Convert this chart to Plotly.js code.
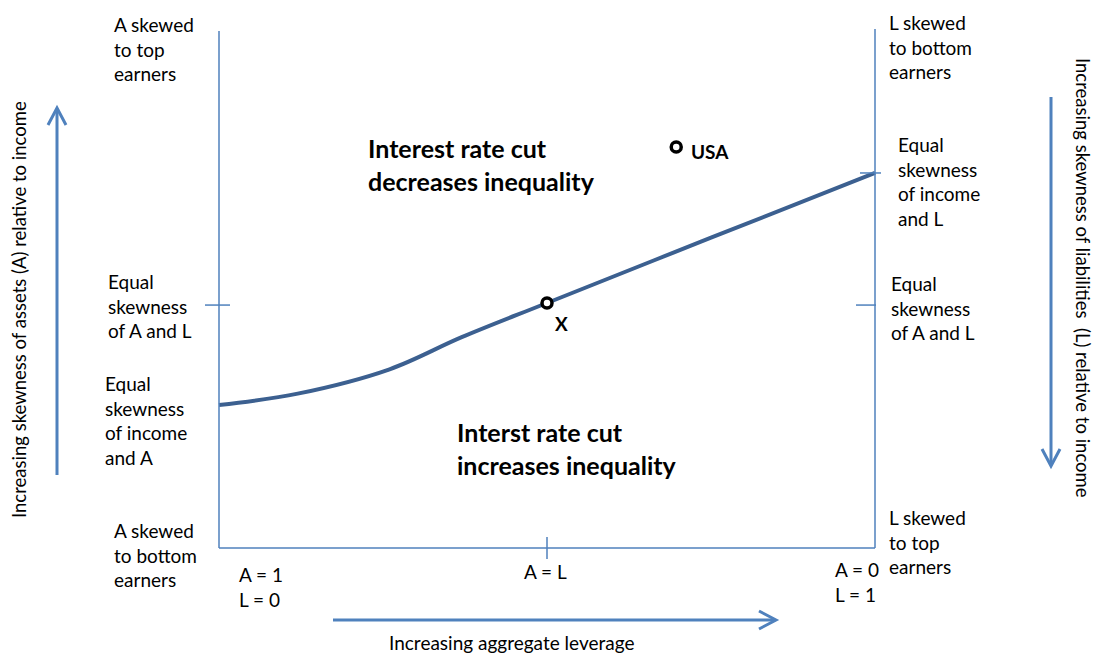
<!DOCTYPE html>
<html><head><meta charset="utf-8">
<script src="https://cdn.plot.ly/plotly-3.0.1.min.js"></script>
<style>html,body{margin:0;padding:0;background:#fff}#chart{width:1094px;height:655px}</style>
</head><body><div id="chart"></div>
<script>
// Curve: x = 0 (A=1,L=0) .. 1 (A=0,L=1); y = 0 (bottom) .. 1 (top)
const curveX = [0.00, 0.12, 0.26, 0.37, 0.50, 0.75, 1.00];
const curveY = [0.276, 0.298, 0.345, 0.407, 0.473, 0.599, 0.724];
const pointNames = ['X', 'USA'];
const pointX = [0.50, 0.697];
const pointY = [0.473, 0.774];
const leftTicksY = [0.469];
const rightTicksY = [0.724, 0.469];
const bottomTicksX = [0.5];

// pixel -> data helpers (for decorations / text placement)
const X0 = 219, X1 = 875, Y0 = 548, Y1 = 30;
const fx = p => (p - X0) / (X1 - X0);
const fy = p => (Y0 - p) / (Y0 - Y1);

const AX = '#4F81BD', CURVE = '#3C6090';
const FONT = 'Lato, "Noto Sans", sans-serif';

const shapes = [];
function seg(x0, y0, x1, y1, color, w) {
  shapes.push({type: 'line', xref: 'x', yref: 'y', x0: x0, y0: y0, x1: x1, y1: y1, line: {color: color, width: w}});
}
// axes frame
seg(0, fy(31), 0, 0, AX, 1.5);
seg(0, 0, 1, 0, AX, 1.5);
seg(1, fy(29), 1, 0, AX, 1.5);
// ticks
leftTicksY.forEach(v => seg(fx(205), v, fx(230), v, AX, 1.5));
seg(fx(860), rightTicksY[0], fx(881), rightTicksY[0], AX, 1.5);
seg(fx(856), rightTicksY[1], fx(876), rightTicksY[1], AX, 1.5);
bottomTicksX.forEach(v => seg(v, fy(537), v, fy(559), AX, 1.5));
// arrows
function path(pts) {
  return 'M' + pts.map(p => fx(p[0]) + ',' + fy(p[1])).join(' L');
}
function arrowShape(pts) {
  shapes.push({type: 'path', xref: 'x', yref: 'y', path: path(pts), line: {color: AX, width: 3}});
}
arrowShape([[333, 620], [775, 620]]);
arrowShape([[759, 611], [776, 620], [759, 629]]);
arrowShape([[57, 475], [57, 109]]);
arrowShape([[48, 125], [57, 108], [66, 125]]);
arrowShape([[1051, 97], [1051, 465]]);
arrowShape([[1042, 449], [1051, 466], [1060, 449]]);

const ann = [];
function txt(t, x, y, opt) {
  opt = opt || {};
  ann.push(Object.assign({
    text: t, x: fx(x), y: fy(y), xref: 'x', yref: 'y', showarrow: false,
    xanchor: 'left', yanchor: 'middle', align: 'left',
    font: {family: FONT, size: 19, color: '#000'}
  }, opt));
}
txt('A skewed<br>to top<br>earners', 112, 49);
txt('Equal<br>skewness<br>of A and L', 106, 306);
txt('Equal<br>skewness<br>of income<br>and A', 103, 420);
txt('A skewed<br>to bottom<br>earners', 112, 555);
txt('A = 1<br>L = 0', 237, 587);
txt('A = L', 545, 571, {xanchor: 'center', align: 'center'});
txt('A = 0<br>L = 1', 833, 582);
txt('Increasing aggregate leverage', 511, 642, {xanchor: 'center', align: 'center'});
txt('L skewed<br>to bottom<br>earners', 887, 47);
txt('Equal<br>skewness<br>of income<br>and L', 896, 181);
txt('Equal<br>skewness<br>of A and L', 889, 308);
txt('L skewed<br>to top<br>earners', 887, 542);
const bold = {family: FONT, size: 25, color: '#000', weight: 'bold'};
txt('<b>Interest rate cut</b>', 366, 148, {font: bold});
txt('<b>decreases inequality</b>', 366, 181, {font: bold});
txt('<b>Interst rate cut</b>', 455, 432, {font: bold});
txt('<b>increases inequality</b>', 455, 465, {font: bold});
txt('Increasing skewness of assets (A) relative to income', 19, 310,
    {xanchor: 'center', align: 'center', textangle: -90, font: {family: FONT, size: 18.5, color: '#000'}});
txt('Increasing skewness of liabilities  (L) relative to income', 1083, 278,
    {xanchor: 'center', align: 'center', textangle: 90, font: {family: FONT, size: 18.5, color: '#000'}});

// point labels, positioned relative to their points
const labelShift = {X: {xanchor: 'center', xshift: 14, yshift: -21}, USA: {xanchor: 'left', xshift: 13, yshift: -4}};
pointNames.forEach((n, i) => {
  ann.push(Object.assign({
    text: '<b>' + n + '</b>', x: pointX[i], y: pointY[i], xref: 'x', yref: 'y', showarrow: false,
    yanchor: 'middle', font: {family: FONT, size: 19, color: '#000'}
  }, labelShift[n]));
});

const traces = [
  {x: curveX, y: curveY, type: 'scatter', mode: 'lines', line: {color: CURVE, width: 4, shape: 'spline', smoothing: 1},
   hoverinfo: 'skip'},
  {x: pointX, y: pointY, type: 'scatter', mode: 'markers',
   marker: {symbol: 'circle', size: 10, color: '#fff', line: {color: '#000', width: 3.5}}, hoverinfo: 'skip'}
];

const layout = {
  width: 1094, height: 655, margin: {l: 0, r: 0, t: 0, b: 0},
  paper_bgcolor: '#fff', plot_bgcolor: '#fff', showlegend: false,
  xaxis: {range: [fx(0), fx(1094)], visible: false, fixedrange: true},
  yaxis: {range: [fy(655), fy(0)], visible: false, fixedrange: true},
  shapes: shapes, annotations: ann
};
Plotly.newPlot('chart', traces, layout, {displayModeBar: false, staticPlot: true});
</script></body></html>
